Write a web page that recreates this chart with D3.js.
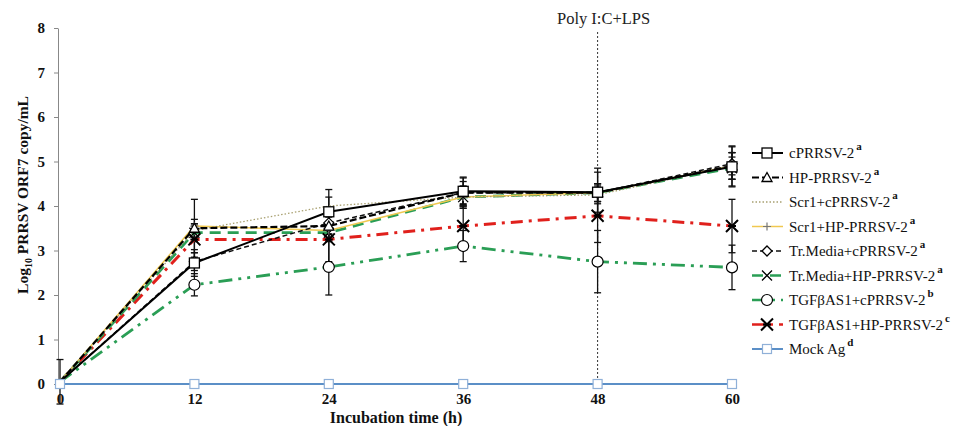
<!DOCTYPE html>
<html><head><meta charset="utf-8">
<script src="https://cdn.jsdelivr.net/npm/d3@7"></script>
<style>body{margin:0;background:#fff}svg{display:block}</style>
</head><body><svg id="c" width="956" height="426"></svg>
<script>
const times = [0, 12, 24, 36, 48, 60];
const yTicks = [0,1,2,3,4,5,6,7,8];
const seriesNames = ["cPRRSV-2","HP-PRRSV-2","Scr1+cPRRSV-2","Scr1+HP-PRRSV-2","Tr.Media+cPRRSV-2","Tr.Media+HP-PRRSV-2","TGFβAS1+cPRRSV-2","TGFβAS1+HP-PRRSV-2","Mock Ag"];
const superscripts = ["a","a","a","a","a","a","b","c","d"];
const cPRRSV = [0.05, 2.72, 3.87, 4.33, 4.31, 4.88];
const hpPRRSV = [0.05, 3.5, 3.55, 4.3, 4.3, 4.9];
const scr1C = [0.05, 3.45, 4.0, 4.2, 4.25, 4.9];
const scr1HP = [0.05, 3.55, 3.45, 4.2, 4.3, 4.9];
const trMediaC = [0.05, 2.75, 3.62, 4.3, 4.3, 4.95];
const trMediaHP = [0.05, 3.4, 3.4, 4.2, 4.3, 4.85];
const tgfC = [0.05, 2.23, 2.63, 3.1, 2.75, 2.62];
const tgfHP = [0.05, 3.25, 3.25, 3.55, 3.78, 3.55];
const mockAg = [0, 0, 0, 0, 0, 0];
const errCPRRSV = [0.5, 0.3, 0.5, 0.3, 0.45, 0.45];
const errHP = [0, 0.65, 0.3, 0.35, 0.55, 0.45];
const errScr1C = [0, 0.15, 0.2, 0.2, 0.2, 0.3];
const errScr1HP = [0, 0.15, 0.15, 0.25, 0.2, 0.3];
const errTrC = [0, 0.2, 0.25, 0.25, 0.2, 0.25];
const errTrHP = [0, 0.2, 0.2, 0.2, 0.2, 0.25];
const errTgfC = [0, 0.25, 0.63, 0.35, 0.7, 0.5];
const errTgfHP = [0, 0.3, 0.5, 0.45, 0.6, 0.6];
const errMock = [0, 0, 0, 0, 0, 0];
const eventTime = 48;
const eventLabel = "Poly I:C+LPS";

const values = [cPRRSV,hpPRRSV,scr1C,scr1HP,trMediaC,trMediaHP,tgfC,tgfHP,mockAg];
const errs = [errCPRRSV,errHP,errScr1C,errScr1HP,errTrC,errTrHP,errTgfC,errTgfHP,errMock];
const styles = [
 {color:"#000", w:2, dash:null, marker:"square"},
 {color:"#000", w:2.2, dash:"7,3", marker:"triangle"},
 {color:"#a8a070", w:1.3, dash:"1.5,2", marker:"none"},
 {color:"#f0c850", w:1.5, dash:null, marker:"plus"},
 {color:"#111", w:1.5, dash:"5,3", marker:"diamond"},
 {color:"#2a9e55", w:2.8, dash:"11,7", marker:"x"},
 {color:"#2a9e55", w:2.8, dash:"14,6,3,6,3,6", marker:"circle"},
 {color:"#e0201c", w:3, dash:"12,6,3,6", marker:"star"},
 {color:"#5b8fc7", w:2, dash:null, marker:"mock"}
];
const svg = d3.select("#c");
const serif = "'Liberation Serif','Times New Roman',serif";
const x = d3.scaleLinear().domain([0,60]).range([60,732]);
const y = d3.scaleLinear().domain([0,8]).range([384,28]);

// y axis
const ya = svg.append("g").attr("transform","translate(58,0)")
  .call(d3.axisLeft(y).tickValues(yTicks).tickSize(4).tickPadding(9).tickSizeOuter(0));
ya.select(".domain").attr("stroke","#888");
ya.selectAll(".tick line").attr("stroke","#888");
ya.selectAll("text").attr("font-family",serif).attr("font-weight","bold").attr("font-size",15).attr("fill","#111");
// x axis
const xa = svg.append("g").attr("transform","translate(0,384)")
  .call(d3.axisBottom(x).tickValues(times).tickSize(0).tickPadding(9));
xa.select(".domain").attr("stroke","#888");
xa.selectAll("text").attr("font-family",serif).attr("font-weight","bold").attr("font-size",15).attr("fill","#111");

// axis titles
const yt = svg.append("text").attr("transform","translate(28,195) rotate(-90)")
  .attr("text-anchor","middle").attr("font-family",serif).attr("font-weight","bold").attr("font-size",15.5).attr("fill","#111");
yt.append("tspan").text("Log");
yt.append("tspan").attr("font-size",10).attr("dy",4).text("10");
yt.append("tspan").attr("dy",-4).text(" PRRSV ORF7 copy/mL");
svg.append("text").attr("x",396).attr("y",423).attr("text-anchor","middle")
  .attr("font-family",serif).attr("font-weight","bold").attr("font-size",16).attr("fill","#111").text("Incubation time (h)");

// event line
svg.append("line").attr("x1",x(eventTime)).attr("x2",x(eventTime)).attr("y1",32).attr("y2",y(0))
  .attr("stroke","#333").attr("stroke-width",1).attr("stroke-dasharray","2,2");
svg.append("text").attr("x",x(eventTime)+6).attr("y",24).attr("text-anchor","middle")
  .attr("font-family",serif).attr("font-size",16.5).attr("fill","#222").text(eventLabel);

// error bars
values.forEach((vals,si)=>{
  vals.forEach((v,i)=>{
    const e = errs[si][i]; if(!e) return;
    const g = svg.append("g").attr("stroke","#111").attr("stroke-width",1.3);
    const cx = x(times[i]);
    g.append("line").attr("x1",cx).attr("x2",cx).attr("y1",y(v+e)).attr("y2",y(v-e));
    g.append("line").attr("x1",cx-3.5).attr("x2",cx+3.5).attr("y1",y(v+e)).attr("y2",y(v+e));
    g.append("line").attr("x1",cx-3.5).attr("x2",cx+3.5).attr("y1",y(v-e)).attr("y2",y(v-e));
  });
});

function drawMarker(g, type, cx, cy, color){
  const s = 5;
  if(type==="square") g.append("rect").attr("x",cx-s).attr("y",cy-s).attr("width",2*s).attr("height",2*s).attr("fill","#fff").attr("stroke","#000").attr("stroke-width",1.3);
  else if(type==="mock") g.append("rect").attr("x",cx-4.5).attr("y",cy-4.5).attr("width",9).attr("height",9).attr("fill","#fff").attr("stroke","#8fb0d8").attr("stroke-width",1.2);
  else if(type==="triangle") g.append("path").attr("d",`M${cx},${cy-5}L${cx+5},${cy+4}L${cx-5},${cy+4}Z`).attr("fill","#fff").attr("stroke","#000").attr("stroke-width",1.3);
  else if(type==="diamond") g.append("path").attr("d",`M${cx},${cy-5}L${cx+5},${cy}L${cx},${cy+5}L${cx-5},${cy}Z`).attr("fill","#fff").attr("stroke","#000").attr("stroke-width",1.3);
  else if(type==="circle") g.append("circle").attr("cx",cx).attr("cy",cy).attr("r",5.5).attr("fill","#fff").attr("stroke","#000").attr("stroke-width",1.2);
  else if(type==="plus") g.append("path").attr("d",`M${cx-4},${cy}H${cx+4}M${cx},${cy-4}V${cy+4}`).attr("stroke","#777").attr("stroke-width",1.2);
  else if(type==="x") g.append("path").attr("d",`M${cx-5},${cy-5}L${cx+5},${cy+5}M${cx+5},${cy-5}L${cx-5},${cy+5}`).attr("stroke","#000").attr("stroke-width",1.3);
  else if(type==="star") g.append("path").attr("d",`M${cx-6},${cy-6}L${cx+6},${cy+6}M${cx+6},${cy-6}L${cx-6},${cy+6}M${cx-4},${cy}H${cx+4}`).attr("stroke","#000").attr("stroke-width",2);
}

const line = d3.line().x((d,i)=>x(times[i])).y(d=>y(d));
const order = [8,6,7,5,3,2,4,1,0];
order.forEach(si=>{
  const st = styles[si];
  svg.append("path").datum(values[si]).attr("d",line).attr("fill","none")
    .attr("stroke",st.color).attr("stroke-width",st.w).attr("stroke-dasharray",st.dash);
});
order.forEach(si=>{
  const st = styles[si];
  const g = svg.append("g");
  values[si].forEach((v,i)=>{ if(i===0 && si!==8) return; drawMarker(g, st.marker, x(times[i]), y(v), st.color); });
});

// legend
const lg = svg.append("g");
seriesNames.forEach((n,i)=>{
  const st = styles[i];
  const ly = 153 + i*24.5;
  const gg = lg.append("g");
  gg.append("line").attr("x1",752).attr("x2",783).attr("y1",ly).attr("y2",ly)
    .attr("stroke",st.color).attr("stroke-width",Math.min(st.w,2.5)).attr("stroke-dasharray",st.dash);
  drawMarker(gg, st.marker, 767, ly, st.color);
  const t = gg.append("text").attr("x",789).attr("y",ly+5).attr("font-family",serif).attr("font-size",15).attr("fill","#111");
  t.append("tspan").text(n);
  t.append("tspan").attr("dy",-8).attr("dx",2).attr("font-size",11).attr("font-weight","bold").text(superscripts[i]);
});
</script></body></html>
